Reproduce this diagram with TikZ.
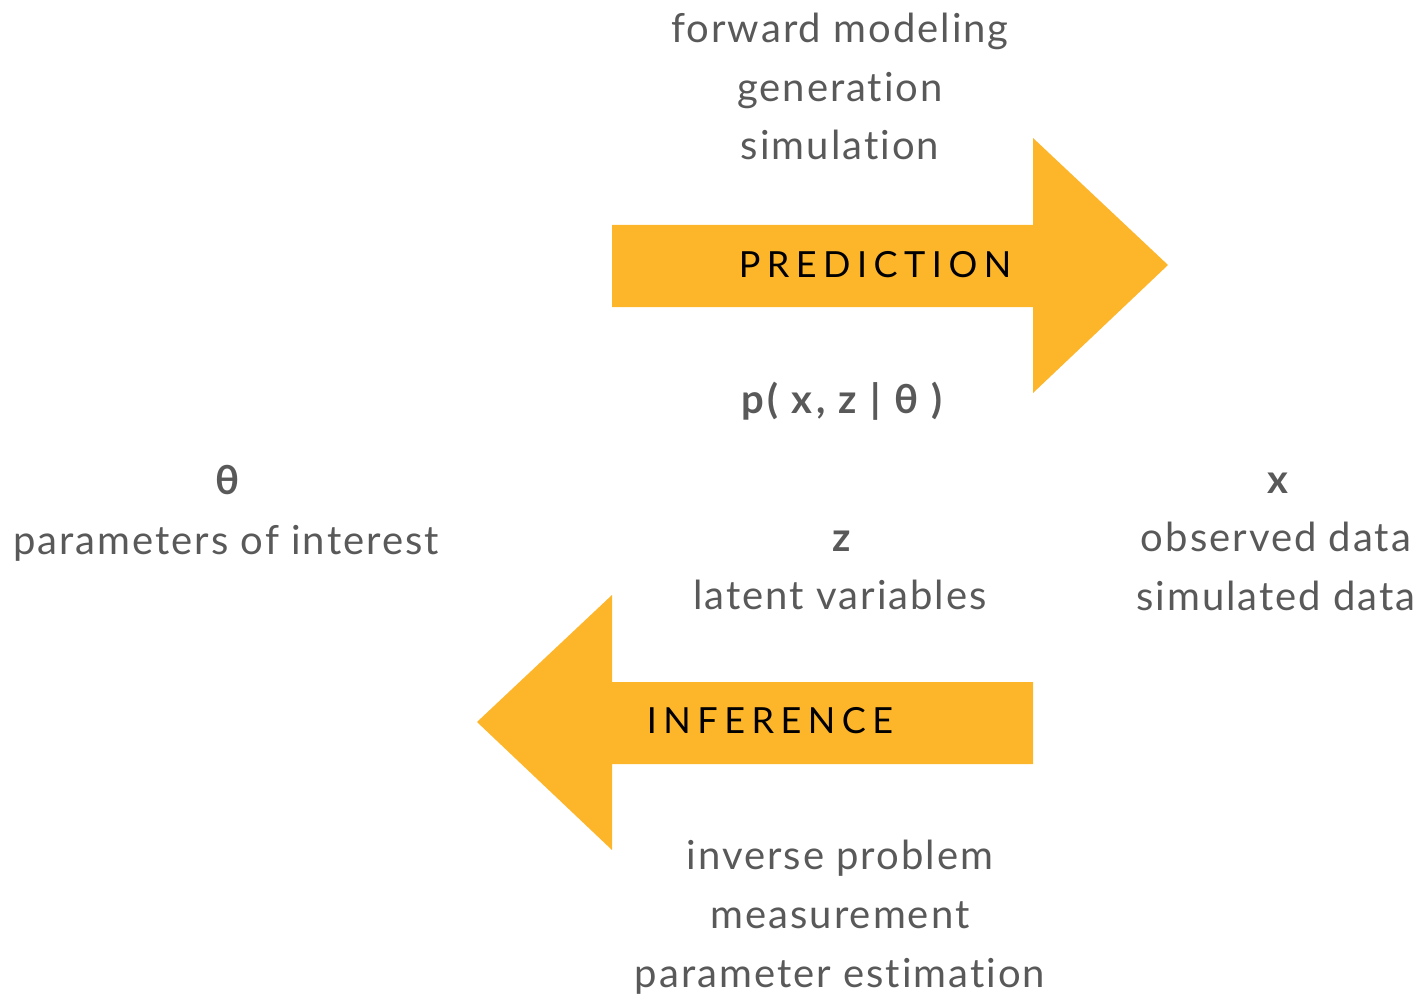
\documentclass[tikz,border=0pt]{standalone}
\usepackage{fontspec}
\setmainfont{Lato}[Ligatures=NoCommon]
\definecolor{arrowcol}{HTML}{FDB52A}
\definecolor{txtcol}{HTML}{595959}
\begin{document}
\begin{tikzpicture}[x=1pt,y=-1pt,
  lbl/.style={anchor=base,inner sep=0pt,text=txtcol,font=\fontsize{40}{48}\selectfont\addfontfeature{LetterSpace=5}},
  sym/.style={anchor=base,inner sep=0pt,text=txtcol,font=\fontsize{40}{48}\selectfont\bfseries\addfontfeature{LetterSpace=9}},
  arrowtxt/.style={anchor=base,inner sep=0pt,text=black,font=\fontsize{36}{44}\selectfont\addfontfeature{LetterSpace=18}}]
\useasboundingbox (0,0) rectangle (1425,995);
% arrows
\fill[arrowcol] (612,225) -- (1033,225) -- (1033,138) -- (1168,265) -- (1033,393) -- (1033,307) -- (612,307) -- cycle;
\fill[arrowcol] (1033,682) -- (612,682) -- (612,595) -- (477,722) -- (612,850) -- (612,764) -- (1033,764) -- cycle;
% prediction texts
\node[lbl] (fm) at (840,43) {forward modeling};
\node[lbl] (gen) at (840,102) {generation};
\node[lbl] (sim) at (840,160) {simulation};
\node[arrowtxt] (pred) at (875,277) {PREDICTION};
\node[sym] (pxz) at (842,413) {p( x, z | θ )};
% theta
\node[sym] (theta) at (228,494) {θ};
\node[lbl] (poi) at (226,554) {parameters of interest};
% z
\node[sym] (z) at (842,551) {z};
\node[lbl] (lv) at (840,609) {latent variables};
% x
\node[sym] (x) at (1278,493) {x};
\node[lbl] (od) at (1276,551) {observed data};
\node[lbl] (sd) at (1276,610) {simulated data};
% inference texts
\node[arrowtxt] (inf) at (770,733) {INFERENCE};
\node[lbl] (ip) at (840,869) {inverse problem};
\node[lbl] (meas) at (840,928) {measurement};
\node[lbl] (pe) at (840,987) {parameter estimation};
\end{tikzpicture}
\end{document}
